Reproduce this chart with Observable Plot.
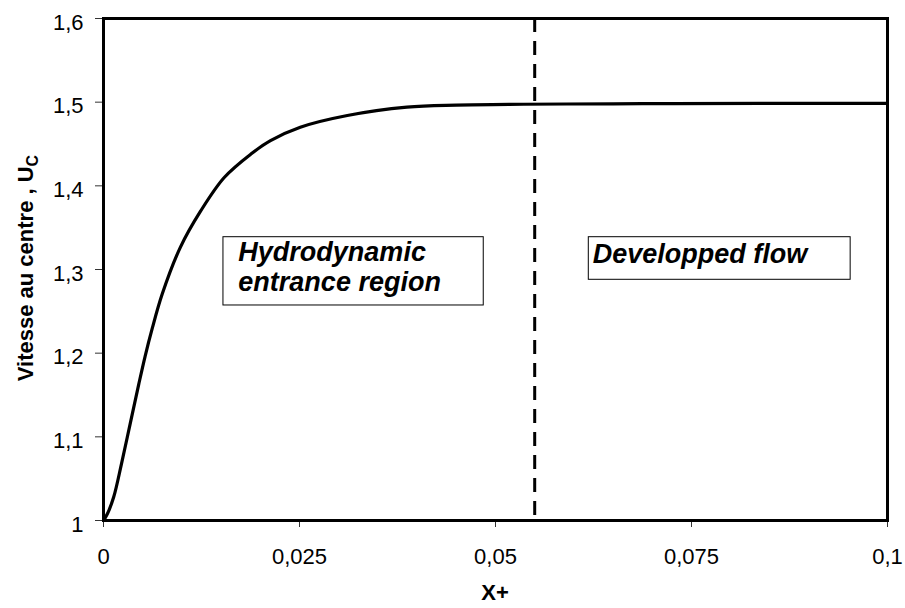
<!DOCTYPE html>
<html>
<head>
<meta charset="utf-8">
<script src="https://cdn.jsdelivr.net/npm/d3@7"></script>
<script src="https://cdn.jsdelivr.net/npm/@observablehq/plot@0.6"></script>
<style>
  html, body { margin: 0; padding: 0; background: #fff; }
  #chart { width: 905px; height: 608px; }
  svg { font-family: "Liberation Sans", Arial, sans-serif; }
</style>
</head>
<body>
<div id="chart"></div>
<script>
// Centreline velocity Uc vs X+
const xPlus = [0, 0.0005, 0.0013, 0.0023, 0.0034, 0.0045, 0.0053, 0.0062, 0.0075, 0.0098, 0.0124, 0.0154, 0.0188, 0.0213, 0.0251, 0.0311, 0.0387, 0.0450, 0.0536, 0.0650, 0.0727, 0.0850, 0.1];
const uc    = [1, 1.008, 1.028, 1.068, 1.1155, 1.163, 1.196, 1.229, 1.271, 1.3265, 1.370, 1.410, 1.438, 1.454, 1.470, 1.484, 1.494, 1.4965, 1.4975, 1.498, 1.4983, 1.4985, 1.4985];

const xTicks = [0, 0.025, 0.05, 0.075, 0.1];
const yTicks = [1, 1.1, 1.2, 1.3, 1.4, 1.5, 1.6];

const boundaryX = [0.055]; // end of the hydrodynamic entrance region

const boxX1 = [0.0153, 0.0619];
const boxX2 = [0.0485, 0.0953];
const boxY1 = [1.257, 1.2877];
const boxY2 = [1.3386, 1.3386];

const noteText = ["Hydrodynamic", "entrance region", "Developped flow"];
const noteX = [0.0172, 0.0172, 0.0624];
const noteY = [1.3096, 1.2749, 1.308];

const xTitle = "X+";
const yTitle = "Vitesse au centre , U";
const yTitleSub = "C";

const curve = xPlus.map((x, i) => ({x, y: uc[i]}));
const boxes = boxX1.map((x1, i) => ({x1, x2: boxX2[i], y1: boxY1[i], y2: boxY2[i]}));
const notes = noteText.map((t, i) => ({t, x: noteX[i], y: noteY[i]}));
const fmt = d => String(d).replace(".", ",");

const chart = Plot.plot({
  width: 905,
  height: 608,
  marginLeft: 103,
  marginRight: 18,
  marginTop: 18,
  marginBottom: 88,
  style: {fontFamily: "Liberation Sans, Arial, sans-serif", background: "#fff"},
  x: {domain: [0, 0.1]},
  y: {domain: [1, 1.6]},
  marks: [
    Plot.axisX({ticks: xTicks, tickFormat: () => "", tickSize: 7, label: null, stroke: "#333"}),
    Plot.axisY({ticks: yTicks, tickFormat: () => "", tickSize: 8, label: null, stroke: "#333"}),
    Plot.text(xTicks, {x: d => d, text: fmt, frameAnchor: "bottom", lineAnchor: "top", dy: 28, fontSize: 22, fill: "#000"}),
    Plot.text(yTicks, {y: d => d, text: fmt, frameAnchor: "left", textAnchor: "end", dx: -20, dy: 4, fontSize: 22, fill: "#000"}),
    Plot.ruleX(boundaryX, {stroke: "#000", strokeWidth: 3, strokeDasharray: "14,9"}),
    Plot.line(curve, {x: "x", y: "y", curve: "catmull-rom", stroke: "#000", strokeWidth: 3.2}),
    Plot.rect(boxes, {x1: "x1", x2: "x2", y1: "y1", y2: "y2", fill: "#fff", stroke: "#000", strokeWidth: 1}),
    Plot.text(notes, {x: "x", y: "y", text: "t", textAnchor: "start", lineAnchor: "bottom", fontSize: 27, fontWeight: "bold", fontStyle: "italic", fill: "#000"}),
    Plot.frame({stroke: "#000", strokeWidth: 3})
  ]
});

const svg = d3.select(chart);
svg.append("text")
  .attr("x", 495).attr("y", 600)
  .attr("text-anchor", "middle")
  .attr("font-size", 22).attr("font-weight", "bold")
  .attr("fill", "#000")
  .text(xTitle);
const yt = svg.append("text")
  .attr("transform", "translate(33,268) rotate(-90)")
  .attr("text-anchor", "middle")
  .attr("font-size", 22).attr("font-weight", "bold")
  .attr("fill", "#000");
yt.append("tspan").text(yTitle);
yt.append("tspan").attr("font-size", 16).attr("dy", 5).text(yTitleSub);

document.getElementById("chart").appendChild(chart);
</script>
</body>
</html>
